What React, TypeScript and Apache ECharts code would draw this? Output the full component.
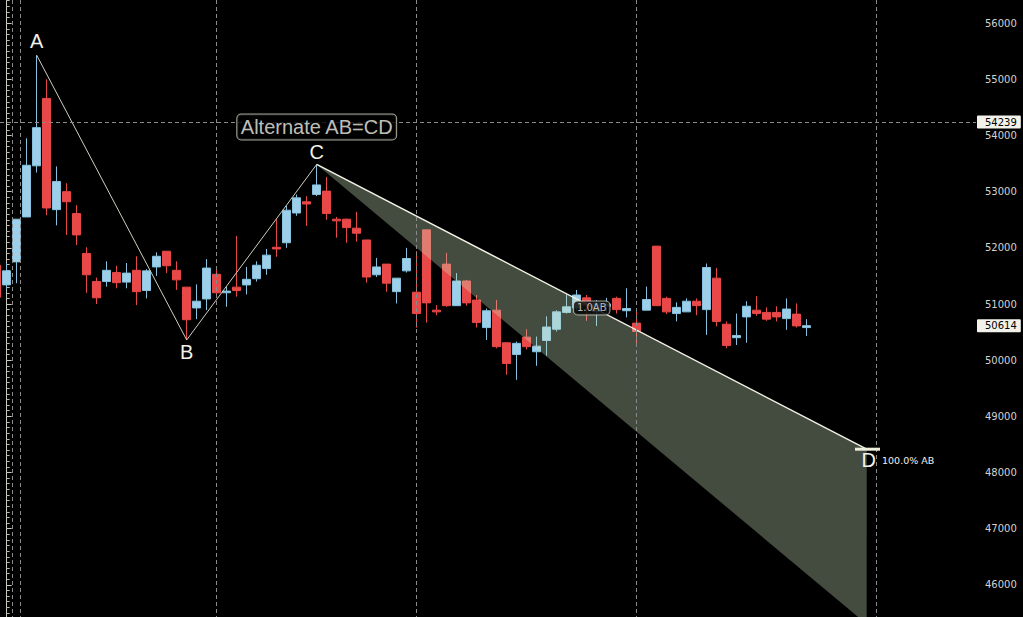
import React, { useEffect, useRef } from "react";
import * as echarts from "echarts";

// ---- data ----
const firstIndex = -1;
const opens = [
  51690, 51340, 51750, 52550, 53460, 54660, 52680, 53000, 52610, 51900, 51400,
  51400, 51560, 51390, 51600, 51240, 51660, 51940, 51600, 51300, 50930, 51090,
  51530, 51200, 51300, 51340, 51450, 51630, 52010, 52090, 52620, 52820, 52950,
  53010, 52510, 52510, 52350, 52140, 51520, 51710, 51220, 51590, 51210, 52320,
  50890, 51710, 50970, 51410, 51070, 50580, 50890, 50310, 50100, 50410, 50150,
  50350, 50550, 50850, 50930, 51110, 50860, 50960, 51100, 50880, 50660, 50890,
  52030, 51100, 50830, 50860, 51050, 50900, 51460, 50640, 50400, 50770, 50890,
  50850, 50850, 50740, 50820, 50580,
];
const closes = [
  51120, 51590, 52510, 53470, 54140, 52710, 53180, 52820, 52230, 51520, 51110,
  51600, 51380, 51550, 51220, 51590, 51850, 51680, 51430, 50720, 51050, 51640,
  51200, 51230, 51240, 51440, 51690, 51870, 51980, 52670, 52890, 52780, 53120,
  52610, 52480, 52360, 52260, 51480, 51660, 51370, 51460, 51810, 50830, 51020,
  50860, 50970, 51410, 51020, 50670, 50880, 50240, 49940, 50300, 50240, 50250,
  50590, 50860, 50950, 51160, 50980, 51020, 51000, 50900, 50920, 50510, 51080,
  50970, 50860, 50940, 51050, 50970, 51650, 50690, 50260, 50440, 50960, 50830,
  50730, 50770, 50910, 50610, 50614,
];
const lows = [
  51090, 51250, 51370, 52550, 53340, 52580, 52400, 52230, 52050, 51200, 51000,
  51310, 51280, 51280, 50980, 51100, 51500, 51550, 51250, 50360, 50730, 50890,
  51140, 50950, 51130, 51170, 51400, 51520, 51840, 52000, 52570, 52390, 52920,
  52500, 52180, 52090, 52110, 51380, 51480, 51220, 51010, 51560, 50580, 50670,
  50800, 50950, 50970, 50970, 50580, 50360, 50210, 49740, 49650, 50190, 49900,
  50080, 50510, 50830, 50880, 50700, 50610, 50840, 50830, 50760, 50300, 50890,
  50970, 50820, 50690, 50860, 50800, 50450, 50600, 50210, 50270, 50310, 50790,
  50700, 50690, 50540, 50580, 50430,
];
const highs = [
  51720, 51730, 52510, 53950, 55430, 55000, 53450, 53150, 52760, 52010, 51470,
  51760, 51680, 51730, 51850, 51620, 51920, 51940, 51760, 51300, 51350, 51800,
  51620, 51310, 52210, 51660, 51760, 51980, 52510, 52750, 52950, 52920, 53485,
  53260, 52550, 52520, 52640, 52140, 51820, 51710, 51460, 52000, 51940, 52320,
  50980, 51910, 51550, 51430, 51160, 50920, 51070, 50310, 50330, 50550, 50420,
  50780, 50890, 51170, 51250, 51160, 51070, 51110, 51130, 51280, 50860, 51310,
  52030, 51130, 51030, 51100, 51100, 51720, 51640, 50690, 50830, 51050, 51140,
  50940, 50960, 51100, 51010, 50730,
];

const patternNames = ["A", "B", "C", "D"];
const patternX = [3, 18, 31, 86];
const patternY = [55430, 50360, 53485, 48415];
const zoneLow = 45300; // lower edge of the projected zone at D
const separators = [0.53, 1.33, 20.93, 40.93, 62.93, 86.93];
const crossPrice = 54239;
const lastPrice = 50614;
const titleText = "Alternate AB=CD";
const titleAnchor = [31, 54150];
const ratioText = "1.0AB";
const ratioAnchor = [58.5, 50930];
const dText = "100.0% AB";
const yMin = 45000;
const yMax = 57000;
const yStep = 1000;

const LETTER_FONT = "Liberation Sans";
const AXIS_FONT = "DejaVu Sans";

function buildOption() {
  const candleData = opens.map((o, i) => [firstIndex + i, o, closes[i], lows[i], highs[i]]);

  const letterLabel = (name: string, position: string, distance: number, offset?: number[]) => ({
    show: true,
    formatter: name,
    position,
    distance,
    offset: offset || [0, 0],
    color: "#f2f2ea",
    fontSize: 20,
    fontFamily: LETTER_FONT,
  });

  const abcData = [0, 1, 2].map((i) => ({
    value: [patternX[i], patternY[i]],
    label: letterLabel(patternNames[i], i === 1 ? "bottom" : "top", i === 0 ? 4 : 2),
  }));

  const cdData = [
    { value: [patternX[2], patternY[2]] },
    { value: [patternX[3], patternY[3]], label: letterLabel(patternNames[3], "bottom", 1, [2, 0]) },
  ];

  const dBar = [
    { value: [patternX[3] - 1.17, patternY[3]] },
    {
      value: [patternX[3] + 1.33, patternY[3]],
      label: {
        show: true,
        formatter: dText,
        position: [2, 6],
        color: "#f0f0f0",
        fontSize: 9.5,
        fontFamily: AXIS_FONT,
      },
    },
  ];

  const sepLine = { color: "#8a8a8a", type: [4, 3], width: 1 };
  const tagLabel = (v: number) => ({
    show: true,
    position: "end",
    distance: 1,
    formatter: String(v),
    backgroundColor: "#f2f2ea",
    color: "#000",
    fontFamily: AXIS_FONT,
    fontSize: 10,
    padding: [2, 4, 1, 8],
    borderRadius: 1,
  });

  return {
    animation: false,
    backgroundColor: "#000",
    grid: { left: 0, right: 47, top: 0, bottom: 0, containLabel: false },
    xAxis: {
      type: "value",
      min: -0.67,
      max: 96.93,
      show: false,
      splitLine: { show: false },
    },
    yAxis: {
      type: "value",
      position: "right",
      min: yMin,
      max: yMax,
      interval: yStep,
      axisLine: { show: true, lineStyle: { color: "#c9c9bd", width: 1 } },
      axisTick: { show: true, length: 5, lineStyle: { color: "#c9c9bd" } },
      minorTick: { show: true, splitNumber: 10, length: 3, lineStyle: { color: "#b8b8ac" } },
      axisLabel: {
        color: "#d2d2d2",
        fontFamily: AXIS_FONT,
        fontSize: 10,
        margin: 9,
        showMinLabel: false,
        showMaxLabel: false,
        formatter: (v: number) => String(v),
      },
      splitLine: { show: false },
    },
    series: [
      {
        type: "candlestick",
        data: candleData,
        barWidth: 8,
        itemStyle: {
          color: "#9dd0e8",
          color0: "#e84848",
          borderColor: "#86c2e0",
          borderColor0: "#e84848",
          borderWidth: 1,
        },
        markLine: {
          silent: true,
          symbol: ["none", "none"],
          animation: false,
          data: [
            ...separators.map((x) => ({ xAxis: x, lineStyle: sepLine, label: { show: false } })),
            { yAxis: crossPrice, lineStyle: sepLine, label: tagLabel(crossPrice) },
            {
              yAxis: lastPrice,
              lineStyle: { color: "rgba(0,0,0,0)", width: 0 },
              label: tagLabel(lastPrice),
            },
          ],
        },
        z: 2,
      },
      {
        type: "custom",
        silent: true,
        z: 3,
        data: [[patternX[2], patternY[2], patternX[3], patternY[3], patternX[3], zoneLow]],
        encode: { x: [0, 2, 4], y: [1, 3, 5] },
        renderItem: (_params: any, api: any) => {
          const p1 = api.coord([api.value(0), api.value(1)]);
          const p2 = api.coord([api.value(2), api.value(3)]);
          const p3 = api.coord([api.value(4), api.value(5)]);
          return {
            type: "polygon",
            shape: { points: [p1, p2, p3] },
            style: { fill: "rgba(205,228,190,0.33)", stroke: "none" },
          };
        },
      },
      {
        type: "line",
        silent: true,
        z: 4,
        data: abcData,
        symbol: "circle",
        symbolSize: 0,
        showSymbol: true,
        lineStyle: { color: "#cfcfc0", width: 1 },
      },
      {
        type: "line",
        silent: true,
        z: 4,
        data: cdData,
        symbol: "circle",
        symbolSize: 0,
        showSymbol: true,
        lineStyle: { color: "#f2f2e6", width: 1.5 },
      },
      {
        type: "line",
        silent: true,
        z: 5,
        data: dBar,
        symbol: "circle",
        symbolSize: 0,
        showSymbol: true,
        lineStyle: { color: "#eeeedd", width: 3 },
      },
      {
        type: "scatter",
        silent: true,
        z: 6,
        symbolSize: 0,
        data: [
          {
            value: titleAnchor,
            label: {
              show: true,
              position: "inside",
              formatter: titleText,
              color: "#f2f2ea",
              fontSize: 20,
              fontFamily: LETTER_FONT,
              backgroundColor: "#000",
              borderColor: "#cfcfc0",
              borderWidth: 1,
              borderRadius: 4,
              padding: [3, 3, 2, 3],
            },
          },
          {
            value: ratioAnchor,
            label: {
              show: true,
              position: "inside",
              formatter: ratioText,
              color: "#e6e6e0",
              fontSize: 10,
              fontFamily: AXIS_FONT,
              backgroundColor: "#000",
              borderColor: "#c8c8bc",
              borderWidth: 1,
              borderRadius: 4,
              padding: [2, 3, 1, 3],
            },
          },
        ],
      },
    ],
  };
}

export default function App() {
  const ref = useRef<HTMLDivElement>(null);
  useEffect(() => {
    if (!ref.current) return;
    const chart = echarts.init(ref.current, undefined, { renderer: "svg" });
    chart.setOption(buildOption() as any);
    return () => chart.dispose();
  }, []);
  return (
    <div
      style={{
        position: "fixed",
        left: 0,
        top: 0,
        width: 1023,
        height: 617,
        overflow: "hidden",
        background: "#000",
      }}
    >
      <div
        ref={ref}
        style={{ position: "absolute", left: 0, top: -33, width: 1023, height: 674 }}
      />
    </div>
  );
}
